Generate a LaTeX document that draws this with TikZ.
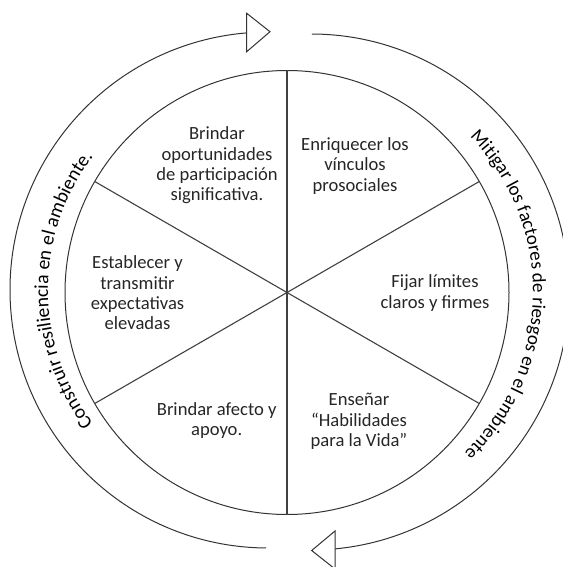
\documentclass[tikz,border=0pt]{standalone}
\usepackage{fontspec}
\setmainfont{Carlito}
\usetikzlibrary{decorations.text}
\begin{document}
\begin{tikzpicture}[x=1pt,y=1pt,
  ln/.style={draw=black!80, line width=1pt},
  spoke/.style={draw=black!75, line width=1.1pt},
  lbl/.style={align=center, font=\fontsize{18.6}{20.3}\selectfont, text=black!85, inner sep=0pt},
  arrowtri/.style={draw=black!80, line width=1pt, fill=white, line join=miter}]
\useasboundingbox (0,0) rectangle (562,-567);
\coordinate (O) at (287,-292.5);
\coordinate (CL) at (268,-290);
\coordinate (CR) at (311,-292);
% inner wheel
\draw[ln] (O) circle[radius=222];
\foreach \a in {90,30,-30,-90,210,150} \draw[spoke] (O) -- ++(\a:222);
% outer arcs
\draw[ln] (CL) ++(94.65:258) arc[start angle=94.65, end angle=269.56, radius=258];
\draw[ln] (CR) ++(89.8:258) arc[start angle=89.8, end angle=-84.7, radius=258];
\draw[arrowtri] (246.7,-13.3) -- (270,-31.7) -- (246.7,-51.7) -- cycle;
\draw[arrowtri] (335,-531) -- (311.7,-550.5) -- (335,-569) -- cycle;
% curved texts
\path[decorate, decoration={text along path, text align=center,
  text={|\fontsize{19.6}{19.6}\selectfont|Construir resiliencia en el ambiente.}}]
  (CL) ++(225:220) arc[start angle=225, end angle=135, radius=220];
\path[decorate, decoration={text along path, text align=center,
  text={|\fontsize{19}{19}\selectfont|Mitigar los factores de riesgos en el ambiente}}]
  (CR) ++(44:222) arc[start angle=44, end angle=-46, radius=222];
% sector labels
\node[lbl] (t1) at (217,-165.5) {Brindar\\oportunidades\\de participación\\significativa.};
\node[lbl] (t2) at (355,-166) {Enriquecer los\\vínculos\\prosociales};
\node[lbl] (t3) at (435,-293) {Fijar límites\\claros y firmes};
\node[lbl] (t4) at (137.5,-293) {Establecer y\\transmitir\\expectativas\\elevadas};
\node[lbl] (t5) at (216.7,-420.5) {Brindar afecto y\\apoyo.};
\node[lbl] (t6) at (359,-421.5) {Enseñar\\“Habilidades\\para la Vida”};
\end{tikzpicture}
\end{document}
